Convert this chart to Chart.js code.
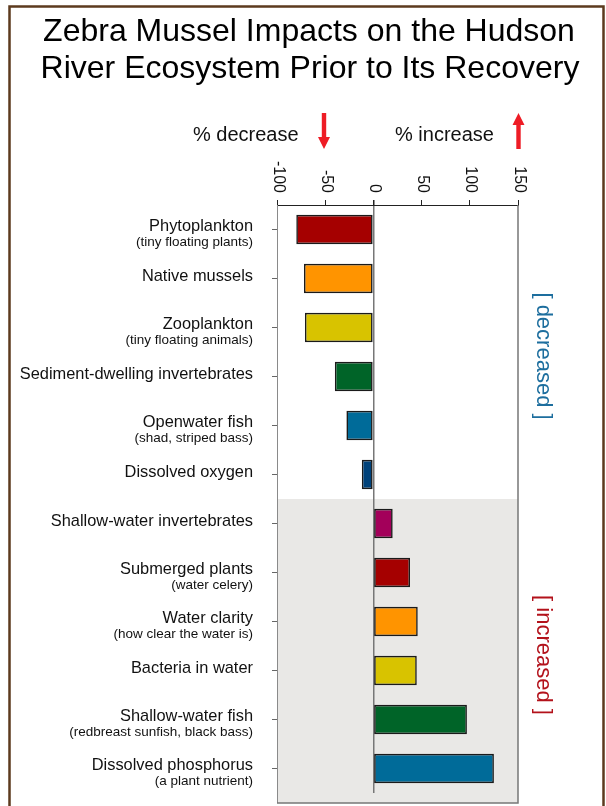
<!DOCTYPE html>
<html>
<head>
<meta charset="utf-8">
<title>Zebra Mussel Impacts on the Hudson</title>
<script src="https://cdn.jsdelivr.net/npm/chart.js@4.4.1/dist/chart.umd.min.js"></script>
<style>
  html, body { margin: 0; padding: 0; background: #fff; }
  #wrap { position: relative; width: 606px; height: 806px; }
</style>
</head>
<body>
<div id="wrap"><canvas id="mussels"></canvas></div>
<script>
const titleLines = ['Zebra Mussel Impacts on the Hudson', 'River Ecosystem Prior to Its Recovery'];
const categories = [
  'Phytoplankton', 'Native mussels', 'Zooplankton', 'Sediment-dwelling invertebrates',
  'Openwater fish', 'Dissolved oxygen', 'Shallow-water invertebrates', 'Submerged plants',
  'Water clarity', 'Bacteria in water', 'Shallow-water fish', 'Dissolved phosphorus'
];
const notes = [
  '(tiny floating plants)', '', '(tiny floating animals)', '',
  '(shad, striped bass)', '', '', '(water celery)',
  '(how clear the water is)', '', '(redbreast sunfish, black bass)', '(a plant nutrient)'
];
// % change per category
const changes = [-80, -72, -71, -40, -28, -12, 20, 38, 46, 45, 97, 125];
const barColors = [
  '#a50000', '#ff9400', '#d8c300', '#006428', '#006b99', '#00427a',
  '#a3005a', '#a50000', '#ff9400', '#d8c300', '#006428', '#006b99'
];
const axisMin = -100;
const axisMax = 150;
const axisStep = 50;
const sideLabels = ['[ decreased ]', '[ increased ]'];
const headerLabels = ['% decrease', '% increase'];

const FONT = '"Liberation Sans", Arial, Helvetica, sans-serif';
Chart.defaults.font.family = FONT;

const drawArrow = (ctx, x, yTail, yTip) => {
  const dir = yTip > yTail ? 1 : -1;
  const headLen = 12, headW = 6, shaftW = 2.2;
  const yHead = yTip - dir * headLen;
  ctx.beginPath();
  ctx.moveTo(x - shaftW, yTail);
  ctx.lineTo(x + shaftW, yTail);
  ctx.lineTo(x + shaftW, yHead);
  ctx.lineTo(x + headW, yHead);
  ctx.lineTo(x, yTip);
  ctx.lineTo(x - headW, yHead);
  ctx.lineTo(x - shaftW, yHead);
  ctx.closePath();
  ctx.fill();
};

const decor = {
  id: 'decor',
  beforeDraw(chart) {
    const { ctx, chartArea: a, scales: { y } } = chart;
    ctx.save();
    ctx.fillStyle = '#fff';
    ctx.fillRect(0, 0, chart.width, chart.height);
    // shaded "increased" half
    const split = (y.getPixelForValue(5) + y.getPixelForValue(6)) / 2;
    ctx.fillStyle = '#e9e8e6';
    ctx.fillRect(a.left, split, a.right - a.left, a.bottom + 10 - split);
    ctx.restore();
  },
  afterDraw(chart) {
    const { ctx, chartArea: a, scales: { x, y } } = chart;
    const boxBottom = a.bottom + 10;
    ctx.save();

    // outer brown frame
    ctx.strokeStyle = '#5c3a1e';
    ctx.lineWidth = 2.5;
    ctx.strokeRect(9.5, 6.5, 594, 840);

    // plot box
    ctx.strokeStyle = '#8a8a8a';
    ctx.lineWidth = 1;
    ctx.beginPath();
    ctx.moveTo(a.left + 0.5, a.top);
    ctx.lineTo(a.left + 0.5, boxBottom);
    ctx.stroke();
    ctx.strokeStyle = '#777';
    ctx.lineWidth = 1.5;
    ctx.beginPath();
    ctx.moveTo(a.left, boxBottom);
    ctx.lineTo(a.right, boxBottom);
    ctx.lineTo(a.right, a.top);
    ctx.stroke();

    // title
    ctx.fillStyle = '#000';
    ctx.font = '32px ' + FONT;
    ctx.textAlign = 'center';
    ctx.textBaseline = 'alphabetic';
    ctx.fillText(titleLines[0], 309, 41);
    ctx.fillText(titleLines[1], 310, 78);

    // % decrease / % increase with arrows
    ctx.font = '20px ' + FONT;
    ctx.textAlign = 'left';
    ctx.fillStyle = '#111';
    ctx.fillText(headerLabels[0], 193, 140.5);
    ctx.fillText(headerLabels[1], 395, 140.5);
    ctx.fillStyle = '#ee1c25';
    drawArrow(ctx, 324, 113, 149);
    drawArrow(ctx, 518.5, 149, 113);

    // rotated top tick labels
    ctx.fillStyle = '#111';
    ctx.font = '16px ' + FONT;
    x.ticks.forEach(t => {
      const px = x.getPixelForValue(t.value);
      ctx.save();
      ctx.translate(px + 1, 193);
      ctx.rotate(Math.PI / 2);
      ctx.textAlign = 'right';
      ctx.textBaseline = 'middle';
      ctx.fillText(String(t.value), 0, 0);
      ctx.restore();
    });

    // category labels with notes
    ctx.textAlign = 'right';
    ctx.textBaseline = 'alphabetic';
    ctx.fillStyle = '#111';
    categories.forEach((name, i) => {
      const yc = y.getPixelForValue(i);
      ctx.font = '16.4px ' + FONT;
      if (notes[i]) {
        ctx.fillText(name, 253, yc + 1.5);
        ctx.font = '13.5px ' + FONT;
        ctx.fillText(notes[i], 253, yc + 16.5);
      } else {
        ctx.fillText(name, 253, yc + 2.5);
      }
    });

    // side labels
    ctx.font = '22px ' + FONT;
    const sides = [
      { text: sideLabels[0], color: '#1d6e9e', yc: 356 },
      { text: sideLabels[1], color: '#b3121b', yc: 655 }
    ];
    sides.forEach(s => {
      ctx.save();
      ctx.translate(543, s.yc);
      ctx.rotate(Math.PI / 2);
      ctx.textAlign = 'center';
      ctx.textBaseline = 'middle';
      ctx.fillStyle = s.color;
      ctx.fillText(s.text, 0, 0);
      ctx.restore();
    });

    ctx.restore();
  }
};

new Chart(document.getElementById('mussels'), {
  type: 'bar',
  data: {
    labels: categories,
    datasets: [{
      data: changes,
      backgroundColor: barColors,
      borderColor: '#1a1a1a',
      borderWidth: 1.6,
      borderSkipped: false,
      barPercentage: 0.6,
      categoryPercentage: 1
    }]
  },
  options: {
    indexAxis: 'y',
    responsive: true,
    maintainAspectRatio: false,
    animation: false,
    layout: { padding: { left: 0, top: 0, right: 88, bottom: 13 } },
    plugins: {
      legend: { display: false },
      tooltip: { enabled: false }
    },
    scales: {
      x: {
        position: 'top',
        min: axisMin,
        max: axisMax,
        ticks: { stepSize: axisStep, display: false },
        grid: {
          drawOnChartArea: true,
          drawTicks: true,
          tickLength: 5,
          tickColor: '#222',
          color: ctx => (ctx.tick && ctx.tick.value === 0 ? '#777' : 'rgba(0,0,0,0)'),
          lineWidth: ctx => (ctx.tick && ctx.tick.value === 0 ? 1.5 : 1)
        },
        border: { display: true, color: '#222', width: 1 },
        afterFit: scale => { scale.height = 205; }
      },
      y: {
        ticks: { display: false },
        grid: {
          offset: false,
          drawOnChartArea: false,
          drawTicks: true,
          tickLength: 5,
          tickColor: '#666',
          color: '#666'
        },
        border: { display: false },
        afterFit: scale => { scale.width = 277; }
      }
    }
  },
  plugins: [decor]
});
</script>
</body>
</html>
